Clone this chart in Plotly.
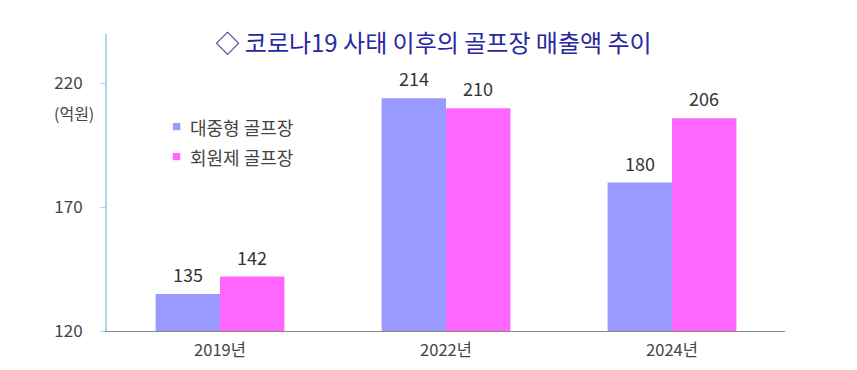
import plotly.graph_objects as go

categories = ["2019년", "2022년", "2024년"]
public_vals = [135, 214, 180]
member_vals = [142, 210, 206]
series_names = ["대중형 골프장", "회원제 골프장"]
series_colors = ["#9999FF", "#FF66FF"]
y_ticks = [120, 170, 220]
title_text = "◇ 코로나19 사태 이후의 골프장 매출액 추이"
unit_text = "(억원)"

FONT = "Noto Sans CJK KR"
W, H = 841, 354
BARGAP = 0.43
bar_w = (1 - BARGAP) / 2

fig = go.Figure()
for name, vals, col in zip(series_names, [public_vals, member_vals], series_colors):
    fig.add_trace(go.Bar(x=categories, y=vals, name=name,
                         marker=dict(color=col, line=dict(width=0))))

annotations = []
# value labels above bars
for k, vals in enumerate([public_vals, member_vals]):
    off = (k - 0.5) * bar_w
    for i, v in enumerate(vals):
        annotations.append(dict(text=str(v), x=i + off, xref="x", y=v, yref="y",
                                xanchor="center", yanchor="middle", yshift=20,
                                showarrow=False,
                                font=dict(size=18, color="#333333", family=FONT)))

# legend drawn as annotations (small square + label)
for i, (name, col) in enumerate(zip(series_names, series_colors)):
    yy = 0.687 - i * 0.101
    annotations.append(dict(text="■", x=0.103, xref="paper", y=yy, yref="paper",
                            xanchor="center", yanchor="middle", showarrow=False,
                            font=dict(size=9, color=col, family=FONT)))
    annotations.append(dict(text=name, x=0.12, xref="paper", y=yy, yref="paper",
                            xanchor="left", yanchor="middle", showarrow=False,
                            font=dict(size=18, color="#444444", family=FONT)))

annotations.append(dict(text=unit_text, x=-0.048, xref="paper", y=208, yref="y",
                        xanchor="center", yanchor="middle", showarrow=False,
                        font=dict(size=16, color="#444444", family=FONT)))

fig.update_layout(
    width=W, height=H,
    margin=dict(l=99, r=64, t=26, b=31, autoexpand=False),
    paper_bgcolor="white", plot_bgcolor="white",
    font=dict(family=FONT, color="#444444"),
    barmode="group", bargap=BARGAP, bargroupgap=0,
    showlegend=False,
    title=dict(text=title_text, x=0.506, xanchor="center", y=0.9, yanchor="middle",
               font=dict(size=24, color="#2828A0", family=FONT)),
    xaxis=dict(showline=True, linecolor="#888888", linewidth=1, ticks="",
               tickfont=dict(size=16.5, color="#444444"), showgrid=False,
               range=[-0.5, 2.5], ticklabelstandoff=4, automargin=False),
    yaxis=dict(range=[120, 240], tickvals=y_ticks, showline=True, linecolor="#A8D8E8",
               linewidth=2, ticks="outside", ticklen=5, tickcolor="#A8D8E8",
               tickfont=dict(size=17, color="#444444"), showgrid=False, zeroline=False,
               ticklabelstandoff=14, automargin=False),
    annotations=annotations,
)
fig.write_html("out.html")
